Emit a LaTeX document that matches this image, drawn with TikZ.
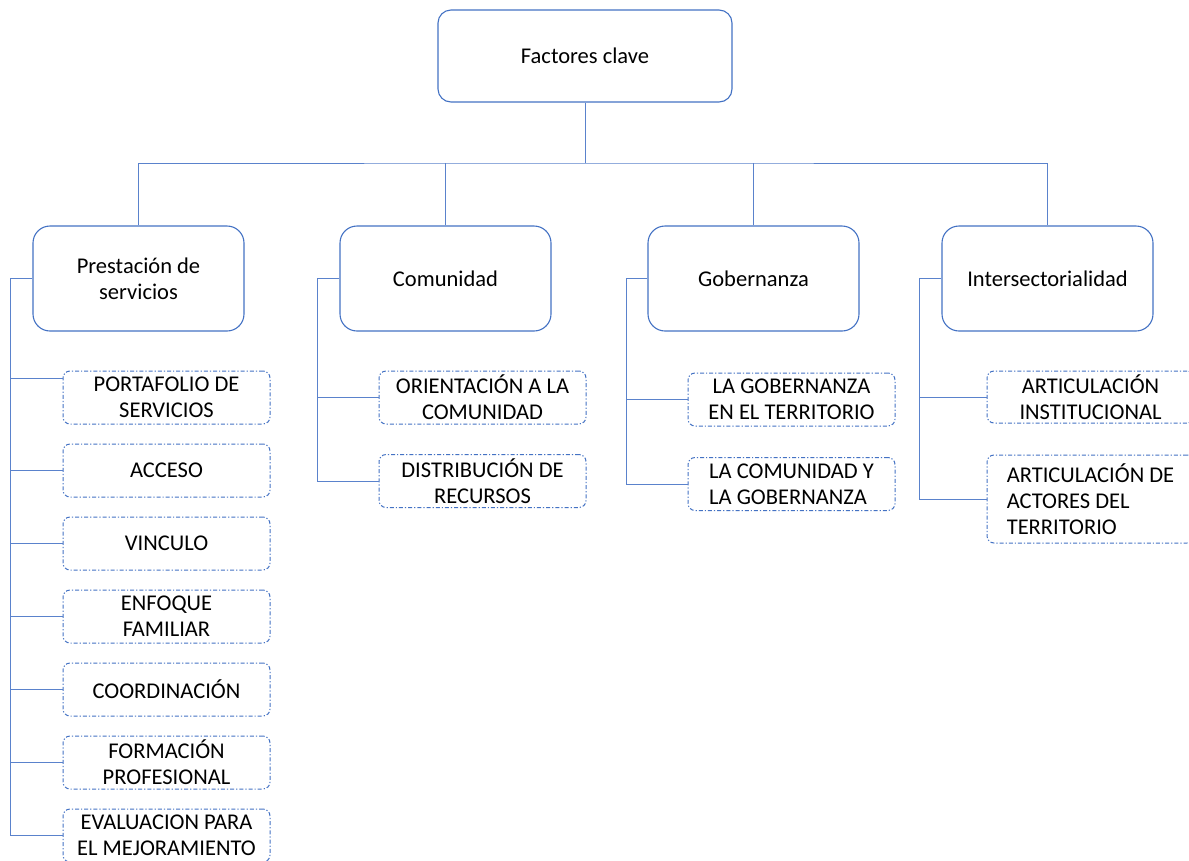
\documentclass[tikz,border=0pt]{standalone}
\usepackage{fontspec}
\setmainfont{Carlito}
\definecolor{obl}{HTML}{4472C4}
\definecolor{lnk}{HTML}{5A82CC}
\tikzset{
  rootbox/.style={draw=obl, line width=1.1pt, rounded corners=13pt, minimum width=294pt, minimum height=92pt, inner sep=0pt, align=center},
  catbox/.style={draw=obl, line width=1.1pt, rounded corners=17pt, minimum width=211pt, minimum height=105pt, inner sep=0pt, align=center},
  leafbox/.style={draw=obl, line width=1pt, rounded corners=7pt, minimum width=207pt, minimum height=53pt, inner sep=0pt, align=center,
     dash pattern=on 4pt off 2pt on 1.2pt off 2pt},
  link/.style={draw=lnk, line width=1pt}
}
\begin{document}
\begin{tikzpicture}[x=1pt,y=-1pt, font=\fontsize{22.5}{26}\selectfont]
\useasboundingbox (0,0) rectangle (1189,860);
\clip (0,0) rectangle (1189,860);
\fill[white] (0,0) rectangle (1189,860);

% root
\node[rootbox] (root) at (585,56) {Factores clave};

% categories
\node[catbox] (ps)  at (138.5,278.5) {Prestación de\\servicios};
\node[catbox] (com) at (445.5,278.5) {Comunidad};
\node[catbox] (gob) at (753.5,278.5) {Gobernanza};
\node[catbox] (int) at (1047.5,278.5) {Intersectorialidad};

% tree connectors
\coordinate (hub) at (585,163);
\draw[link] (root.south) -- (hub);
\draw[link] (ps.north) |- (hub) -| (int.north);
\draw[link] (com.north) -- (com.north |- hub);
\draw[link] (gob.north) -- (gob.north |- hub);

% Prestación leaves
\node[leafbox] (p1) at (166.5,397.5) {PORTAFOLIO DE\\SERVICIOS};
\node[leafbox] (p2) at (166.5,470.5) {ACCESO};
\node[leafbox] (p3) at (166.5,543.5) {VINCULO};
\node[leafbox] (p4) at (166.5,616.5) {ENFOQUE\\FAMILIAR};
\node[leafbox] (p5) at (166.5,689.5) {COORDINACIÓN};
\node[leafbox] (p6) at (166.5,762.5) {FORMACIÓN\\PROFESIONAL};
\node[leafbox] (p7) at (166.5,835.5) {EVALUACION PARA\\EL MEJORAMIENTO};

\coordinate (pbus) at (10,0);
\coordinate (p1in) at (63,378);
\draw[link] (ps.west) -- (pbus |- ps.west) -- (pbus |- p7.west) -- (p7.west);
\draw[link] (pbus |- p1in) -- (p1in);
\foreach \n in {p2,p3,p4,p5,p6}{\draw[link] (pbus |- \n.west) -- (\n.west);}

% Comunidad leaves
\node[leafbox] (c1) at (482.5,397.5) {ORIENTACIÓN A LA\\COMUNIDAD};
\node[leafbox] (c2) at (482.5,481) {DISTRIBUCIÓN DE\\RECURSOS};
\coordinate (cbus) at (317,0);
\draw[link] (com.west) -- (cbus |- com.west) -- (cbus |- c2.west) -- (c2.west);
\draw[link] (cbus |- c1.west) -- (c1.west);

% Gobernanza leaves
\node[leafbox] (g1) at (791.5,399.5) {LA GOBERNANZA\\EN EL TERRITORIO};
\node[leafbox, align=left] (g2) at (791.5,484) {LA COMUNIDAD Y\\LA GOBERNANZA};
\coordinate (gbus) at (626,0);
\draw[link] (gob.west) -- (gbus |- gob.west) -- (gbus |- g2.west) -- (g2.west);
\draw[link] (gbus |- g1.west) -- (g1.west);

% Intersectorialidad leaves
\node[leafbox, minimum height=52pt] (i1) at (1090.5,397) {ARTICULACIÓN\\INSTITUCIONAL};
\node[leafbox, minimum height=88pt, align=left] (i2) at (1090.5,499) {ARTICULACIÓN DE\\ACTORES DEL\\TERRITORIO};
\coordinate (ibus) at (919,0);
\draw[link] (int.west) -- (ibus |- int.west) -- (ibus |- i2.west) -- (i2.west);
\draw[link] (ibus |- i1.west) -- (i1.west);
\end{tikzpicture}
\end{document}
